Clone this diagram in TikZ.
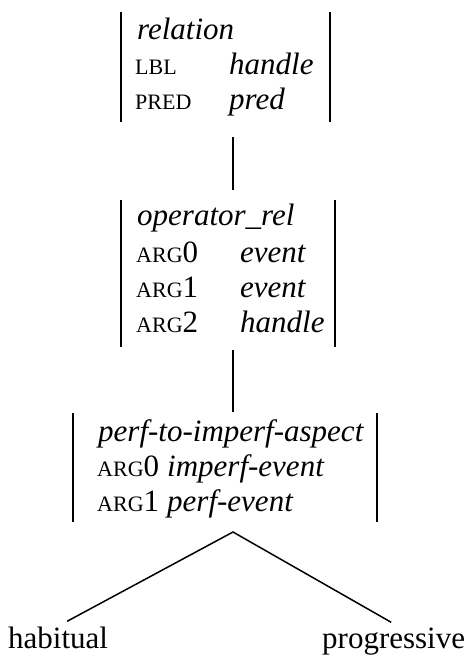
\documentclass[tikz,border=0pt]{standalone}
\usepackage{fontspec}
\setmainfont{Liberation Serif}
% feature names set as small capitals
\newcommand\smc[1]{{\fontsize{22}{22}\selectfont #1}}
\begin{document}
\begin{tikzpicture}[x=1pt,y=-1pt,
  txt/.style={anchor=base west, inner sep=0pt, font=\fontsize{31}{35.5}\selectfont},
  avm/.style={rectangle, inner sep=0pt, anchor=north west},
  bar/.style={line width=2pt},
  edge/.style={line width=1.5pt}]
\useasboundingbox (0,0) rectangle (470,655);

% --- relation ---
\node[avm, minimum width=209pt, minimum height=110pt] (rel) at (121,12) {};
\draw[bar] (rel.north west) -- (rel.south west);
\draw[bar] (rel.north east) -- (rel.south east);
\node[txt] (rel-type) at (137,40) {\textit{relation}};
\node[txt] (rel-f1) at (135,75) {\smc{LBL}};
\node[txt] (rel-v1) at (229,75) {\textit{handle}};
\node[txt] (rel-f2) at (135,110) {\smc{PRED}};
\node[txt] (rel-v2) at (229,110) {\textit{pred}};

% --- operator_rel ---
\node[avm, minimum width=214pt, minimum height=147pt] (op) at (121,200) {};
\draw[bar] (op.north west) -- (op.south west);
\draw[bar] (op.north east) -- (op.south east);
\node[txt] (op-type) at (137,225) {\textit{operator\_rel}};
\node[txt] (op-f1) at (136,262) {\smc{ARG}0};
\node[txt] (op-v1) at (240,262) {\textit{event}};
\node[txt] (op-f2) at (136,297) {\smc{ARG}1};
\node[txt] (op-v2) at (240,297) {\textit{event}};
\node[txt] (op-f3) at (136,332) {\smc{ARG}2};
\node[txt] (op-v3) at (240,332) {\textit{handle}};

% --- perf-to-imperf-aspect ---
\node[avm, minimum width=304pt, minimum height=109pt] (asp) at (73,413) {};
\draw[bar] (asp.north west) -- (asp.south west);
\draw[bar] (asp.north east) -- (asp.south east);
\node[txt] (asp-type) at (98,441) {\textit{perf-to-imperf-aspect}};
\node[txt] (asp-f1) at (97,476) {\smc{ARG}0};
\node[txt] (asp-v1) at (167,476) {\textit{imperf-event}};
\node[txt] (asp-f2) at (97,511) {\smc{ARG}1};
\node[txt] (asp-v2) at (167,511) {\textit{perf-event}};

% --- subtypes ---
\node[txt] (hab) at (8,648) {habitual};
\node[txt] (prog) at (322,648) {progressive};

% --- hierarchy links ---
\coordinate (rel-low) at (233,137);
\coordinate (op-high) at (233,190);
\coordinate (op-low) at (233,350);
\coordinate (asp-high) at (233,412);
\coordinate (asp-low) at (233,532);
\draw[edge] (rel-low) -- (op-high);
\draw[edge] (op-low) -- (asp-high);
\draw[edge] ([xshift=9pt,yshift=5pt]hab.north) -- (asp-low) -- ([xshift=-2.5pt,yshift=5pt]prog.north);
\end{tikzpicture}
\end{document}
